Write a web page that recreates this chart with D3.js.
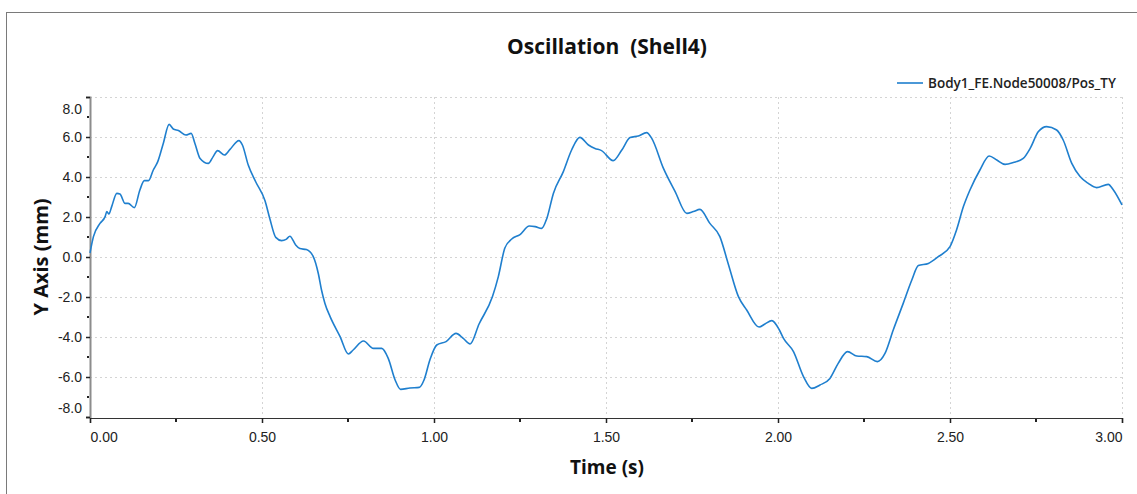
<!DOCTYPE html>
<html>
<head>
<meta charset="utf-8">
<script src="https://cdn.jsdelivr.net/npm/d3@7"></script>
<style>
  body { margin: 0; background: #fff; }
  svg { display: block; font-family: "Segoe UI", "Open Sans", sans-serif; }
</style>
</head>
<body>
<div id="chart"></div>
<script>
// chart size and plot box
const WIDTH = 1137, HEIGHT = 494;
const margin = {top: 97, right: 15, bottom: 77, left: 90};

// data
const seriesName = "Body1_FE.Node50008/Pos_TY";
const timeVals = [0.000, 0.010, 0.029, 0.044, 0.049, 0.055, 0.063, 0.078, 0.087, 0.102,
  0.111, 0.129, 0.145, 0.158, 0.170, 0.184, 0.197, 0.213, 0.230, 0.242,
  0.257, 0.279, 0.294, 0.305, 0.320, 0.344, 0.358, 0.371, 0.391, 0.407,
  0.433, 0.443, 0.460, 0.482, 0.509, 0.523, 0.540, 0.557, 0.570, 0.581,
  0.598, 0.610, 0.629, 0.649, 0.664, 0.673, 0.683, 0.698, 0.727, 0.751,
  0.765, 0.795, 0.824, 0.848, 0.867, 0.887, 0.903, 0.930, 0.957, 0.971,
  0.988, 1.008, 1.035, 1.064, 1.085, 1.105, 1.131, 1.170, 1.187, 1.206,
  1.226, 1.250, 1.277, 1.294, 1.313, 1.328, 1.347, 1.376, 1.400, 1.424,
  1.449, 1.468, 1.487, 1.521, 1.546, 1.570, 1.594, 1.618, 1.633, 1.667,
  1.701, 1.735, 1.754, 1.773, 1.802, 1.831, 1.855, 1.885, 1.909, 1.945,
  1.962, 1.982, 2.004, 2.016, 2.045, 2.074, 2.098, 2.122, 2.151, 2.175,
  2.202, 2.229, 2.258, 2.289, 2.311, 2.335, 2.364, 2.389, 2.408, 2.437,
  2.466, 2.500, 2.519, 2.539, 2.558, 2.587, 2.614, 2.636, 2.660, 2.684,
  2.713, 2.733, 2.757, 2.781, 2.810, 2.829, 2.854, 2.878, 2.902, 2.926,
  2.960, 2.975, 3.000];
const posVals = [0.20, 1.02, 1.68, 2.02, 2.27, 2.15, 2.52, 3.18, 3.15, 2.68,
  2.68, 2.47, 3.35, 3.82, 3.82, 4.35, 4.77, 5.68, 6.63, 6.40,
  6.32, 6.10, 6.18, 5.68, 4.93, 4.68, 5.02, 5.32, 5.10, 5.38,
  5.82, 5.60, 4.60, 3.75, 2.80, 1.90, 0.98, 0.82, 0.88, 1.04,
  0.60, 0.42, 0.37, 0.02, -0.85, -1.65, -2.32, -2.98, -3.98, -4.85,
  -4.65, -4.20, -4.57, -4.57, -5.07, -6.15, -6.62, -6.55, -6.52, -6.15,
  -5.15, -4.40, -4.23, -3.82, -4.07, -4.35, -3.35, -1.98, -0.98, 0.45,
  0.90, 1.12, 1.55, 1.52, 1.43, 1.93, 3.18, 4.27, 5.35, 5.98,
  5.60, 5.43, 5.32, 4.82, 5.35, 5.97, 6.05, 6.22, 5.93, 4.43,
  3.27, 2.18, 2.27, 2.38, 1.68, 1.02, -0.32, -1.98, -2.65, -3.50,
  -3.35, -3.18, -3.65, -4.07, -4.73, -5.98, -6.57, -6.40, -6.07, -5.32,
  -4.73, -4.95, -4.98, -5.23, -4.82, -3.65, -2.32, -1.15, -0.43, -0.32,
  0.02, 0.52, 1.35, 2.52, 3.35, 4.35, 5.05, 4.85, 4.63, 4.72,
  4.93, 5.43, 6.27, 6.52, 6.35, 5.85, 4.68, 4.02, 3.68, 3.47,
  3.63, 3.35, 2.60];

// tick values
const xMajor = [0, 0.5, 1.0, 1.5, 2.0, 2.5, 3.0];
const xMinor = [0.25, 0.75, 1.25, 1.75, 2.25, 2.75];
const yMajor = [-8, -6, -4, -2, 0, 2, 4, 6, 8];
const yMinor = [-7, -5, -3, -1, 1, 3, 5, 7];

const data = timeVals.map((t, i) => ({t: t, v: posVals[i]}));

let svg = d3.select("#chart")
    .append("svg")
    .attr("width", WIDTH)
    .attr("height", HEIGHT);

// outer frame
svg.append("rect")
    .attr("x", 6.5).attr("y", 12.5)
    .attr("width", WIDTH + 20).attr("height", HEIGHT + 20)
    .attr("fill", "none")
    .attr("stroke", "#7a7a7a");

let x = d3.scaleLinear()
    .domain([0, 3])
    .range([margin.left, WIDTH - margin.right]);

let y = d3.scaleLinear()
    .domain([-8, 8])
    .range([HEIGHT - margin.bottom, margin.top]);

// dotted grid
let grid = svg.append("g").attr("stroke", "#d4d4d4").attr("stroke-dasharray", "2,3");
grid.selectAll("line.h").data(yMajor.filter(d => d > -8)).enter()
    .append("line")
    .attr("x1", x(0)).attr("x2", x(3))
    .attr("y1", d => y(d) + 0.5).attr("y2", d => y(d) + 0.5);
grid.selectAll("line.v").data(xMajor.filter(d => d > 0)).enter()
    .append("line")
    .attr("x1", d => x(d) + 0.5).attr("x2", d => x(d) + 0.5)
    .attr("y1", y(8)).attr("y2", y(-8));

// y axis
let yAxis = svg.append("g")
    .attr("transform", `translate(${x(0)}, 0)`)
    .call(d3.axisLeft(y).tickValues(yMajor).tickSize(4).tickPadding(4)
        .tickFormat(d => d.toFixed(1)));
yAxis.select(".domain").attr("stroke", "#8c8c8c").attr("stroke-width", 2);
yAxis.selectAll(".tick line").attr("stroke", "#222").attr("stroke-width", 1.5);
yAxis.selectAll(".tick text")
    .attr("fill", "#222")
    .style("font-size", "14px")
    .attr("y", d => d === 8 ? 12 : (d === -8 ? -9 : 0));

svg.append("g")
    .attr("transform", `translate(${x(0)}, 0)`)
    .selectAll("line").data(yMinor).enter()
    .append("line")
    .attr("x1", -3).attr("x2", -1)
    .attr("y1", d => y(d)).attr("y2", d => y(d))
    .attr("stroke", "#222").attr("stroke-width", 2);

// x axis
let xAxis = svg.append("g")
    .attr("transform", `translate(0, ${y(-8) + 1})`)
    .call(d3.axisBottom(x).tickValues(xMajor).tickSize(5).tickPadding(9)
        .tickFormat(d => d.toFixed(2)));
xAxis.select(".domain").attr("stroke", "#333").attr("stroke-width", 1.2);
xAxis.selectAll(".tick line").attr("stroke", "#222").attr("stroke-width", 1.5);
xAxis.selectAll(".tick text")
    .attr("fill", "#222")
    .style("font-size", "14px")
    .attr("text-anchor", d => d === 0 ? "start" : (d === 3 ? "end" : "middle"));

svg.append("g")
    .attr("transform", `translate(0, ${y(-8) + 1})`)
    .selectAll("line").data(xMinor).enter()
    .append("line")
    .attr("x1", d => x(d)).attr("x2", d => x(d))
    .attr("y1", 1).attr("y2", 4)
    .attr("stroke", "#222").attr("stroke-width", 2);

// the series
let line = d3.line()
    .x(d => x(d.t))
    .y(d => y(d.v))
    .curve(d3.curveMonotoneX);

svg.append("path")
    .datum(data)
    .attr("fill", "none")
    .attr("stroke", "#1f7fce")
    .attr("stroke-width", 1.6)
    .attr("d", line);

// titles
svg.append("text")
    .attr("x", (x(0) + x(3)) / 2 + 1).attr("y", 54)
    .attr("text-anchor", "middle")
    .style("font-size", "21px").style("font-weight", "bold")
    .style("white-space", "pre")
    .attr("fill", "#111")
    .text("Oscillation  (Shell4)");

svg.append("text")
    .attr("transform", `translate(48, ${y(0)}) rotate(-90)`)
    .attr("text-anchor", "middle")
    .style("font-size", "20px").style("font-weight", "bold")
    .attr("fill", "#111")
    .text("Y Axis (mm)");

svg.append("text")
    .attr("x", (x(0) + x(3)) / 2 + 1).attr("y", 474)
    .attr("text-anchor", "middle")
    .style("font-size", "19px").style("font-weight", "bold")
    .attr("fill", "#111")
    .text("Time (s)");

// legend
let legend = svg.append("g").attr("transform", "translate(897, 83)");
legend.append("line")
    .attr("x1", 0).attr("x2", 26)
    .attr("stroke", "#1f7fce").attr("stroke-width", 1.6);
legend.append("text")
    .attr("x", 31).attr("dy", "0.35em")
    .style("font-size", "13.5px").style("font-weight", 600)
    .attr("fill", "#222")
    .text(seriesName);
</script>
</body>
</html>
